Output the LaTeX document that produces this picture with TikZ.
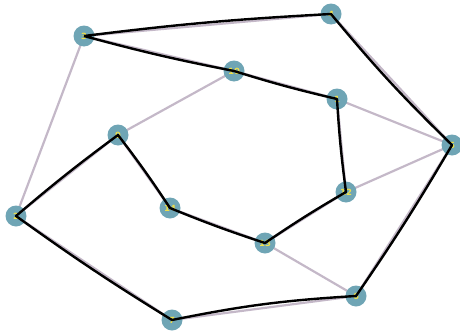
\documentclass[tikz,border=0pt]{standalone}
\usepackage{fontspec}
\setmainfont{DejaVu Sans}
\usepackage{tikz}
\usetikzlibrary{backgrounds}
\definecolor{vtxfill}{HTML}{6FA5B5}
\definecolor{vtxtext}{HTML}{F0E04A}
\definecolor{edgegray}{HTML}{C4B8C8}

\begin{document}
\begin{tikzpicture}[x=1pt, y=-1pt,
  vtx/.style={circle, fill=vtxfill, minimum size=21pt, inner sep=0pt, text=vtxtext, font=\bfseries\fontsize{8.5}{8.5}\selectfont},
  graph edge/.style={edgegray, line width=2.2pt},
  tour/.style={black, line width=2.4pt, line join=round}]
  \useasboundingbox (0,0) rectangle (460,332);
  \node (n3) [vtx] at (84,36) {3};
  \node (n4) [vtx] at (331,14) {4};
  \node (n10) [vtx] at (234,71) {10};
  \node (n1) [vtx] at (337,99) {1};
  \node (n5) [vtx] at (452,145) {5};
  \node (n9) [vtx] at (118,135) {9};
  \node (n2) [vtx] at (16,216) {2};
  \node (n14) [vtx] at (170,208) {14};
  \node (n13) [vtx] at (265,243) {13};
  \node (n12) [vtx] at (346,192) {12};
  \node (n6) [vtx] at (356,296) {6};
  \node (n7) [vtx] at (172,320) {7};

  % all edges of the graph
  \begin{scope}[on background layer]
    \draw[graph edge] (n3.center) -- (n4.center);
    \draw[graph edge] (n3.center) -- (n10.center);
    \draw[graph edge] (n3.center) -- (n2.center);
    \draw[graph edge] (n4.center) -- (n5.center);
    \draw[graph edge] (n10.center) -- (n1.center);
    \draw[graph edge] (n10.center) -- (n9.center);
    \draw[graph edge] (n1.center) -- (n5.center);
    \draw[graph edge] (n1.center) -- (n12.center);
    \draw[graph edge] (n5.center) -- (n12.center);
    \draw[graph edge] (n5.center) -- (n6.center);
    \draw[graph edge] (n12.center) -- (n13.center);
    \draw[graph edge] (n13.center) -- (n14.center);
    \draw[graph edge] (n13.center) -- (n6.center);
    \draw[graph edge] (n14.center) -- (n9.center);
    \draw[graph edge] (n9.center) -- (n2.center);
    \draw[graph edge] (n2.center) -- (n7.center);
    \draw[graph edge] (n7.center) -- (n6.center);
  \end{scope}

  % hamiltonian tour
  \draw[tour] (n3.center) to[bend left=2] (n4.center) to[bend right=3] (n5.center)
    to[bend left=2] (n6.center) to[bend right=4] (n7.center) to[bend left=2] (n2.center)
    to[bend left=2] (n9.center) to[bend left=2] (n14.center) to[bend right=2] (n13.center)
    to[bend left=2] (n12.center) to[bend left=2] (n1.center) to[bend left=2] (n10.center)
    to[bend left=2] (n3.center);
\end{tikzpicture}
\end{document}
